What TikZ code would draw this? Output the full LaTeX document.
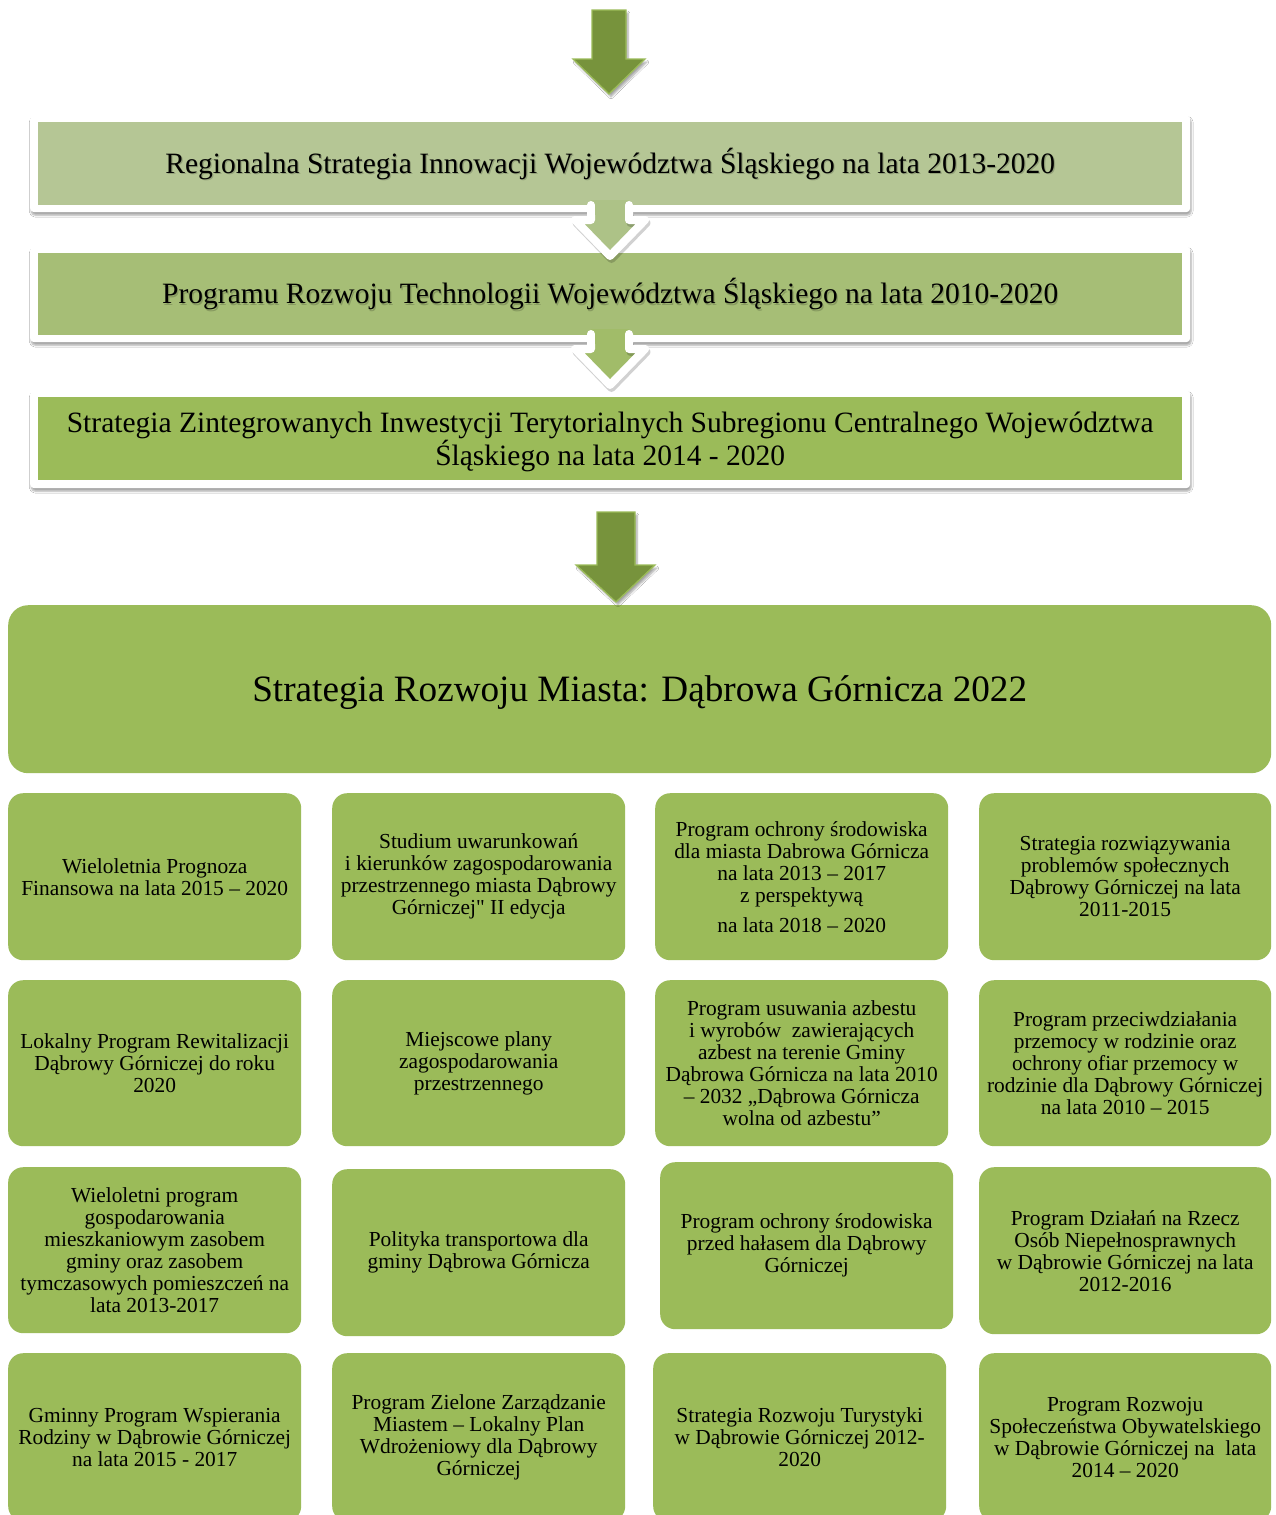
\documentclass[tikz,border=0pt]{standalone}
\usepackage{fontspec}
\setmainfont{Liberation Serif}
\newfontfamily\rawserif{Liberation Serif}
\usetikzlibrary{shadows.blur}
\definecolor{gA}{HTML}{9BBB59}
\definecolor{gB}{HTML}{B5C695}
\definecolor{gC}{HTML}{A6BE76}
\definecolor{gD}{HTML}{77933C}
\definecolor{gE}{HTML}{ADC287}
\definecolor{gF}{HTML}{A1BC69}
\tikzset{
  frame/.style={fill=white, rounded corners=4pt, inner sep=0pt,
    blur shadow={shadow xshift=1pt, shadow yshift=-3pt, shadow opacity=35, shadow blur steps=6}},
  bannerfill/.style={inner sep=0pt, minimum width=1144pt, minimum height=83pt},
  bannertext/.style={font=\fontsize{29.5}{31}\selectfont, align=center, inner sep=0pt},
  tshadow/.style={bannertext, text=black, opacity=0.18, xshift=1.2pt, yshift=-1.8pt},
  tile/.style={fill=gA, rounded corners=15pt, inner sep=0pt, anchor=north west,
    minimum width=293pt, font=\fontsize{21.4}{22}\selectfont, align=center},
  bigarrow/.style={fill=gD, draw=gA, line width=1.3pt, line join=miter,
    blur shadow={shadow xshift=2pt, shadow yshift=-3pt, shadow opacity=35, shadow blur steps=6}},
  chevline/.style={draw=white, line width=8pt, line join=round, line cap=round},
  chevshadow/.style={draw=black, opacity=0.18, line width=8pt, line join=round, line cap=round}
}
\begin{document}
\begin{tikzpicture}[x=1pt,y=-1pt]
\useasboundingbox (0,0) rectangle (1275,1515);
\clip (0,0) rectangle (1275,1515);
\fill[white] (0,0) rectangle (1275,1515);

% top arrow
\path[bigarrow] (592,10) -- (626,10) -- (626,59) -- (645,59) -- (609,94) -- (573,59) -- (592,59) -- cycle;

% banner frames
\node[frame, anchor=north west, minimum width=1160pt, minimum height=97pt] (f1) at (30,115) {};
\node[frame, anchor=north west, minimum width=1160pt, minimum height=96pt] (f2) at (30,246) {};
\node[frame, anchor=north west, minimum width=1160pt, minimum height=98pt] (f3) at (30,390) {};
\node[bannerfill, fill=gB, anchor=north west] (b1) at (38,122) {};
\node[bannerfill, fill=gC, anchor=north west, minimum height=82pt] (b2) at (38,253) {};
\node[bannerfill, fill=gA, anchor=north west] (b3) at (38,397) {};

% chevron 1
\fill[gE] (591,200) -- (591,220) -- (575,220) -- (610,256) -- (645,220) -- (629,220) -- (629,200) -- cycle;
\draw[chevshadow, xshift=1.5pt, yshift=-3pt] (629,214) -- (629,220) -- (645,220) -- (610,256) -- (575,220);
\draw[chevline] (591,205) -- (591,220) -- (575,220) -- (610,256) -- (645,220) -- (629,220) -- (629,205);
\fill[gE] (595,200) rectangle (625,215);
% chevron 2
\fill[gF] (591,329) -- (591,349) -- (575,349) -- (610,385) -- (645,349) -- (629,349) -- (629,329) -- cycle;
\draw[chevshadow, xshift=1.5pt, yshift=-3pt] (629,343) -- (629,349) -- (645,349) -- (610,385) -- (575,349);
\draw[chevline] (591,334) -- (591,349) -- (575,349) -- (610,385) -- (645,349) -- (629,349) -- (629,334);
\fill[gF] (595,329) rectangle (625,344);

% banner texts
\node[tshadow] at (b1.center) {Regionalna Strategia Innowacji Województwa Śląskiego na lata 2013-2020};
\node[bannertext] (t1) at (b1.center) {Regionalna Strategia Innowacji Województwa Śląskiego na lata 2013-2020};
\node[tshadow] at (b2.center) {Programu Rozwoju Technologii Województwa Śląskiego na lata 2010-2020};
\node[bannertext] (t2) at (b2.center) {Programu Rozwoju Technologii Województwa Śląskiego na lata 2010-2020};
\node[bannertext, yshift=-3pt] (t3) at (b3.center) {Strategia Zintegrowanych Inwestycji Terytorialnych Subregionu Centralnego Województwa\\Śląskiego na lata 2014 - 2020};

% big box
\node[fill=gA, rounded corners=20pt, anchor=north west, minimum width=1263pt, minimum height=168pt] (main) at (8,605) {};
\node[font=\fontsize{37.2}{40}\selectfont, inner sep=0pt, yshift=-3pt] (maint) at (main.center) {Strategia Rozwoju Miasta: Dąbrowa Górnicza 2022};

% middle arrow
\path[bigarrow] (597,512) -- (635,512) -- (635,565) -- (655,565) -- (616,602) -- (576,565) -- (597,565) -- cycle;

% row 1
\node[tile, minimum height=167pt] (r1c1) at (8,793) {Wieloletnia Prognoza\\Finansowa na lata 2015 – 2020};
\node[tile, minimum height=167pt] (r1c2) at (332,793) {Studium uwarunkowań\\i kierunków zagospodarowania\\przestrzennego miasta Dąbrowy\\Górniczej{\rawserif"} II edycja};
\node[tile, minimum height=167pt] (r1c3) at (655,793) {Program ochrony środowiska\\dla miasta Dabrowa Górnicza\\na lata 2013 – 2017\\z perspektywą\\[8pt]na lata 2018 – 2020};
\node[tile, minimum height=167pt, minimum width=292pt] (r1c4) at (979,793) {Strategia rozwiązywania\\problemów społecznych\\Dąbrowy Górniczej na lata\\2011-2015};
% row 2
\node[tile, minimum height=166pt] (r2c1) at (8,980) {Lokalny Program Rewitalizacji\\Dąbrowy Górniczej do roku\\2020};
\node[tile, minimum height=166pt] (r2c2) at (332,980) {Miejscowe plany\\zagospodarowania\\przestrzennego};
\node[tile, minimum height=166pt] (r2c3) at (655,980) {Program usuwania azbestu\\i wyrobów~ zawierających\\azbest na terenie Gminy\\Dąbrowa Górnicza na lata 2010\\– 2032 „Dąbrowa Górnicza\\wolna od azbestu”};
\node[tile, minimum height=166pt, minimum width=292pt] (r2c4) at (979,980) {Program przeciwdziałania\\przemocy w rodzinie oraz\\ochrony ofiar przemocy w\\rodzinie dla Dąbrowy Górniczej\\na lata 2010 – 2015};
% row 3
\node[tile, minimum height=166pt] (r3c1) at (8,1167) {Wieloletni program\\gospodarowania\\mieszkaniowym zasobem\\gminy oraz zasobem\\tymczasowych pomieszczeń na\\lata 2013-2017};
\node[tile, minimum height=167pt] (r3c2) at (332,1169) {Polityka transportowa dla\\gminy Dąbrowa Górnicza};
\node[tile, minimum height=167pt] (r3c3) at (660,1162) {Program ochrony środowiska\\przed hałasem dla Dąbrowy\\Górniczej};
\node[tile, minimum height=167pt, minimum width=292pt] (r3c4) at (979,1167) {Program Działań na Rzecz\\Osób Niepełnosprawnych\\w Dąbrowie Górniczej na lata\\2012-2016};
% row 4
\node[tile, minimum height=168pt] (r4c1) at (8,1353) {Gminny Program Wspierania\\Rodziny w Dąbrowie Górniczej\\na lata 2015 - 2017};
\node[tile, minimum height=168pt] (r4c2) at (332,1353) {Program Zielone Zarządzanie\\Miastem – Lokalny Plan\\Wdrożeniowy dla Dąbrowy\\Górniczej};
\node[tile, minimum height=168pt] (r4c3) at (653,1353) {Strategia Rozwoju Turystyki\\w Dąbrowie Górniczej 2012-\\2020};
\node[tile, minimum height=168pt, minimum width=292pt] (r4c4) at (979,1353) {Program Rozwoju\\Społeczeństwa Obywatelskiego\\w Dąbrowie Górniczej na~ lata\\2014 – 2020};
\end{tikzpicture}
\end{document}
